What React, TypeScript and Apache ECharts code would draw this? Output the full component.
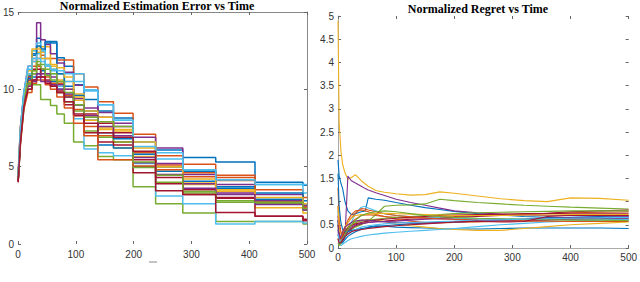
import React, { useEffect, useRef } from "react";
import * as echarts from "echarts";

// MATLAB default colour order
const palette = ["#0072BD", "#D95319", "#EDB120", "#7E2F8E", "#77AC30", "#4DBEEE", "#A2142F"];

// ---------- Left plot: Normalized Estimation Error vs Time ----------
const xTicks = [0, 100, 200, 300, 400, 500];
const errYTicks = [0, 5, 10, 15];
const riseTimes = [0, 4, 10];
const stepStarts = [17, 24, 32, 39, 47, 56, 67, 80, 96, 114, 138, 165, 199, 238, 285, 342, 410, 493, 500];

const rise01 = [4.2, 7.0, 9.3];
const rise02 = [4.3, 7.3, 9.6];
const rise03 = [4.1, 6.8, 9.0];
const rise04 = [4.4, 7.5, 9.8];
const rise05 = [4.0, 6.5, 8.8];
const rise06 = [4.3, 7.2, 9.5];
const rise07 = [4.2, 6.9, 9.2];
const rise08 = [4.1, 6.6, 8.9];
const rise09 = [4.5, 7.6, 9.7];
const rise10 = [4.2, 7.1, 9.4];
const rise11 = [4.0, 6.7, 9.1];
const rise12 = [4.3, 7.0, 9.0];
const rise13 = [4.4, 7.4, 9.9];
const rise14 = [4.1, 6.9, 9.3];
const rise15 = [4.2, 7.2, 9.6];
const rise16 = [4.0, 6.4, 8.7];
const rise17 = [4.3, 7.3, 9.5];
const rise18 = [4.1, 6.8, 9.2];
const rise19 = [4.2, 7.0, 9.4];
const rise20 = [4.4, 7.5, 9.8];
const rise21 = [4.0, 6.6, 8.9];

const err01 = [10.9, 12.2, 13.3, 12.5, 13.0, 13.1, 12.05, 11.5, 10.3, 9.35, 8.6, 8.15, 6.6, 6.08, 5.6, 5.3, 4.0, 3.8];
const err02 = [10.5, 11.5, 12.0, 12.2, 12.0, 12.0, 11.9, 11.9, 11.0, 10.15, 9.2, 8.45, 7.1, 5.7, 5.15, 4.3, 2.65, 2.2];
const err03 = [11.0, 12.5, 12.75, 12.75, 12.75, 11.3, 10.6, 10.0, 9.3, 8.3, 7.4, 6.2, 5.65, 5.0, 3.85, 3.5, 2.35, 2.0];
const err04 = [11.5, 12.0, 14.3, 13.2, 12.9, 12.3, 11.7, 11.1, 10.26, 9.97, 8.5, 7.6, 6.9, 6.2, 4.5, 3.85, 3.2, 2.5];
const err05 = [10.3, 10.3, 10.3, 9.35, 9.35, 8.96, 8.4, 7.8, 6.6, 6.35, 5.65, 5.45, 3.7, 2.6, 2.0, 1.45, 1.45, 1.3];
const err06 = [11.5, 12.5, 13.0, 12.0, 11.5, 11.0, 10.2, 9.5, 8.1, 6.15, 5.9, 5.7, 5.2, 3.1, 2.6, 1.3, 1.45, 1.35];
const err07 = [10.8, 11.0, 11.5, 11.3, 10.6, 10.2, 9.9, 9.5, 9.0, 8.4, 7.8, 7.2, 4.6, 3.9, 3.2, 2.95, 1.8, 1.6];
const err08 = [10.0, 10.8, 11.0, 11.2, 11.0, 10.5, 10.0, 9.6, 9.0, 8.0, 6.4, 6.2, 5.0, 4.7, 4.05, 3.6, 2.9, 2.6];
const err09 = [10.2, 11.8, 11.5, 11.0, 10.8, 10.4, 10.4, 9.6, 8.7, 7.6, 7.0, 6.6, 5.9, 5.1, 4.35, 4.1, 3.5, 3.0];
const err10 = [10.5, 11.2, 12.4, 12.4, 11.5, 11.5, 11.0, 10.5, 9.7, 8.0, 7.5, 7.3, 6.2, 4.45, 3.95, 3.4, 2.7, 2.3];
const err11 = [10.4, 10.6, 10.8, 11.0, 11.0, 10.8, 10.3, 10.0, 9.4, 8.8, 8.2, 7.8, 5.25, 5.2, 3.9, 3.3, 2.8, 2.4];
const err12 = [10.0, 11.0, 11.6, 11.3, 10.9, 10.6, 9.8, 9.2, 8.6, 7.3, 6.9, 6.6, 4.95, 4.0, 3.3, 2.8, 2.6, 2.2];
const err13 = [11.0, 11.8, 12.3, 12.5, 11.6, 11.2, 11.0, 10.5, 11.0, 9.9, 9.0, 8.0, 6.6, 5.9, 4.8, 4.15, 3.85, 3.3];
const err14 = [10.6, 11.3, 11.3, 10.8, 10.5, 10.2, 9.8, 9.0, 8.3, 7.2, 6.6, 6.4, 5.45, 4.3, 3.5, 3.0, 2.7, 2.3];
const err15 = [10.7, 12.3, 12.8, 12.6, 13.1, 13.0, 11.0, 10.2, 9.6, 8.6, 7.2, 6.8, 5.8, 5.0, 4.7, 3.7, 3.3, 2.8];
const err16 = [9.8, 10.4, 10.6, 10.6, 10.3, 10.0, 9.5, 8.8, 7.8, 7.0, 5.45, 5.45, 5.05, 4.8, 4.6, 4.45, 2.7, 2.4];
const err17 = [11.2, 12.6, 12.6, 12.0, 12.0, 11.6, 11.4, 10.8, 9.5, 8.6, 8.2, 7.4, 6.6, 5.0, 4.2, 3.5, 3.0, 2.6];
const err18 = [10.2, 10.5, 11.0, 10.5, 10.5, 10.3, 10.0, 9.7, 9.0, 8.3, 7.6, 7.0, 5.6, 4.5, 3.6, 3.2, 2.55, 2.2];
const err19 = [10.4, 11.2, 11.8, 11.6, 11.3, 11.0, 10.5, 9.8, 9.0, 8.2, 7.9, 7.6, 5.3, 4.45, 3.4, 2.7, 2.7, 2.3];
const err20 = [11.3, 12.0, 12.0, 11.8, 11.5, 11.3, 11.2, 11.0, 10.5, 9.97, 9.0, 8.0, 6.3, 5.5, 4.8, 4.15, 3.85, 3.85];
const err21 = [10.0, 10.6, 10.8, 10.8, 10.4, 10.2, 9.8, 9.2, 8.4, 7.8, 7.2, 6.9, 6.0, 3.45, 3.2, 2.03, 1.8, 1.5];

const riseList = [rise01, rise02, rise03, rise04, rise05, rise06, rise07, rise08, rise09, rise10, rise11, rise12, rise13, rise14, rise15, rise16, rise17, rise18, rise19, rise20, rise21];
const errList = [err01, err02, err03, err04, err05, err06, err07, err08, err09, err10, err11, err12, err13, err14, err15, err16, err17, err18, err19, err20, err21];

// ---------- Right plot: Normalized Regret vs Time ----------
const regretYTicks = [0, 0.5, 1, 1.5, 2, 2.5, 3, 3.5, 4, 4.5, 5];
const regretTimes = [0, 2, 5, 8, 12, 17, 23, 30, 40, 47, 52, 65, 80, 100, 125, 150, 175, 200, 240, 280, 320, 360, 400, 450, 500];

const reg01 = [1.9, 1.55, 1.4, 1.28, 1.0, 0.8, 0.72, 0.74, 0.78, 0.8, 1.08, 1.05, 1.03, 0.98, 0.92, 0.87, 0.83, 0.79, 0.74, 0.71, 0.68, 0.66, 0.64, 0.63, 0.61];
const reg02 = [1.3, 0.6, 0.35, 0.3, 0.38, 0.45, 0.55, 0.62, 0.7, 0.71, 0.72, 0.7, 0.68, 0.66, 0.65, 0.66, 0.67, 0.68, 0.7, 0.72, 0.73, 0.74, 0.76, 0.77, 0.78];
const reg03 = [4.9, 2.7, 2.1, 1.8, 1.62, 1.48, 1.52, 1.58, 1.45, 1.38, 1.33, 1.24, 1.2, 1.17, 1.14, 1.15, 1.21, 1.18, 1.12, 1.06, 1.02, 1.0, 1.08, 1.07, 1.03];
const reg04 = [0.6, 0.25, 0.18, 0.17, 0.25, 1.55, 1.45, 1.4, 1.33, 1.28, 1.25, 1.19, 1.13, 1.05, 0.98, 0.92, 0.86, 0.8, 0.76, 0.73, 0.71, 0.7, 0.7, 0.69, 0.68];
const reg05 = [0.5, 0.3, 0.22, 0.25, 0.3, 0.35, 0.4, 0.45, 0.5, 0.55, 0.58, 0.72, 0.9, 0.92, 0.93, 0.95, 1.05, 1.02, 0.98, 0.95, 0.92, 0.9, 0.88, 0.86, 0.84];
const reg06 = [0.8, 0.3, 0.12, 0.1, 0.2, 0.35, 0.55, 0.75, 0.88, 0.9, 0.86, 0.8, 0.74, 0.7, 0.68, 0.66, 0.65, 0.64, 0.63, 0.63, 0.62, 0.62, 0.62, 0.62, 0.62];
const reg07 = [0.4, 0.15, 0.1, 0.15, 0.25, 0.35, 0.42, 0.48, 0.52, 0.54, 0.55, 0.57, 0.58, 0.6, 0.62, 0.63, 0.64, 0.66, 0.68, 0.7, 0.72, 0.75, 0.78, 0.8, 0.82];
const reg08 = [0.6, 0.2, 0.1, 0.12, 0.18, 0.25, 0.3, 0.35, 0.4, 0.43, 0.45, 0.48, 0.47, 0.45, 0.44, 0.43, 0.42, 0.41, 0.41, 0.42, 0.43, 0.43, 0.43, 0.43, 0.42];
const reg09 = [0.9, 0.5, 0.3, 0.35, 0.45, 0.6, 0.72, 0.8, 0.82, 0.8, 0.78, 0.72, 0.68, 0.62, 0.58, 0.55, 0.54, 0.55, 0.56, 0.58, 0.6, 0.61, 0.63, 0.64, 0.65];
const reg10 = [0.5, 0.2, 0.15, 0.2, 0.3, 0.4, 0.5, 0.55, 0.6, 0.61, 0.62, 0.6, 0.57, 0.52, 0.48, 0.45, 0.42, 0.4, 0.38, 0.38, 0.42, 0.46, 0.5, 0.53, 0.56];
const reg11 = [0.3, 0.15, 0.12, 0.2, 0.3, 0.38, 0.45, 0.5, 0.53, 0.54, 0.55, 0.56, 0.57, 0.58, 0.6, 0.62, 0.63, 0.62, 0.6, 0.59, 0.58, 0.6, 0.62, 0.63, 0.64];
const reg12 = [0.2, 0.1, 0.15, 0.25, 0.35, 0.45, 0.5, 0.55, 0.58, 0.59, 0.6, 0.62, 0.64, 0.66, 0.68, 0.7, 0.72, 0.74, 0.76, 0.77, 0.78, 0.79, 0.8, 0.8, 0.8];
const reg13 = [0.4, 0.1, 0.05, 0.08, 0.12, 0.16, 0.2, 0.22, 0.25, 0.27, 0.28, 0.3, 0.32, 0.34, 0.36, 0.38, 0.4, 0.42, 0.46, 0.5, 0.53, 0.56, 0.58, 0.6, 0.61];
const reg14 = [0.7, 0.3, 0.2, 0.25, 0.35, 0.42, 0.48, 0.52, 0.55, 0.57, 0.58, 0.6, 0.62, 0.64, 0.66, 0.68, 0.7, 0.71, 0.72, 0.73, 0.74, 0.74, 0.75, 0.75, 0.75];
const reg15 = [1.6, 0.9, 0.55, 0.4, 0.35, 0.35, 0.38, 0.4, 0.42, 0.43, 0.44, 0.46, 0.48, 0.5, 0.52, 0.53, 0.55, 0.56, 0.58, 0.6, 0.62, 0.64, 0.66, 0.68, 0.7];
const reg16 = [0.2, 0.15, 0.2, 0.3, 0.42, 0.55, 0.65, 0.75, 0.85, 0.84, 0.82, 0.78, 0.74, 0.7, 0.67, 0.65, 0.63, 0.62, 0.6, 0.59, 0.58, 0.58, 0.57, 0.57, 0.57];
const reg17 = [0.9, 0.4, 0.3, 0.35, 0.45, 0.55, 0.65, 0.7, 0.72, 0.72, 0.73, 0.74, 0.75, 0.74, 0.73, 0.72, 0.71, 0.7, 0.7, 0.7, 0.71, 0.71, 0.72, 0.72, 0.72];
const reg18 = [0.5, 0.2, 0.25, 0.35, 0.45, 0.5, 0.55, 0.58, 0.6, 0.6, 0.6, 0.58, 0.56, 0.55, 0.54, 0.54, 0.55, 0.56, 0.58, 0.6, 0.62, 0.64, 0.65, 0.66, 0.66];
const reg19 = [0.1, 0.05, 0.1, 0.2, 0.3, 0.4, 0.5, 0.6, 0.7, 0.73, 0.75, 0.78, 0.8, 0.78, 0.74, 0.7, 0.68, 0.66, 0.64, 0.63, 0.62, 0.61, 0.6, 0.6, 0.59];
const reg20 = [0.3, 0.15, 0.15, 0.2, 0.25, 0.3, 0.35, 0.4, 0.45, 0.47, 0.48, 0.5, 0.52, 0.54, 0.55, 0.56, 0.57, 0.58, 0.6, 0.61, 0.62, 0.63, 0.64, 0.65, 0.66];
const reg21 = [0.2, 0.1, 0.12, 0.18, 0.25, 0.3, 0.35, 0.38, 0.4, 0.41, 0.42, 0.44, 0.46, 0.48, 0.5, 0.52, 0.54, 0.56, 0.58, 0.56, 0.57, 0.68, 0.7, 0.7, 0.7];

const regList = [reg01, reg02, reg03, reg04, reg05, reg06, reg07, reg08, reg09, reg10, reg11, reg12, reg13, reg14, reg15, reg16, reg17, reg18, reg19, reg20, reg21];

const TITLE_LEFT = "Normalized Estimation Error vs Time";
const TITLE_RIGHT = "Normalized Regret vs Time";

function buildStep(rise: number[], steps: number[]): number[][] {
  const pts: number[][] = [];
  rise.forEach((v, i) => pts.push([riseTimes[i], v]));
  steps.forEach((v, k) => {
    pts.push([stepStarts[k], v]);
    pts.push([stepStarts[k + 1], v]);
  });
  return pts;
}

const labelStyle = { fontFamily: "Liberation Sans", fontSize: 10, color: "#333" };
const tickStyle = { show: true, inside: true, length: 3, lineStyle: { color: "#666", width: 1 } };
const hiddenLine = { show: false, onZero: false };
const greyLine = (c: string) => ({ show: true, onZero: false, lineStyle: { color: c, width: 1 } });

export default function App() {
  const ref = useRef<HTMLDivElement>(null);
  useEffect(() => {
    if (!ref.current) return;
    const chart = echarts.init(ref.current, undefined, { renderer: "svg" });
    const leftSeries = errList.map((steps, i) => ({
      type: "line",
      xAxisIndex: 0,
      yAxisIndex: 0,
      data: buildStep(riseList[i], steps),
      showSymbol: false,
      symbol: "none",
      lineStyle: { color: palette[i % 7], width: 1.5 },
      silent: true,
    }));
    const rightSeries = regList.map((vals, i) => ({
      type: "line",
      xAxisIndex: 2,
      yAxisIndex: 2,
      data: vals.map((v, k) => [regretTimes[k], v]),
      showSymbol: false,
      symbol: "none",
      lineStyle: { color: palette[i % 7], width: 1.1 },
      silent: true,
    }));
    const xBase = {
      type: "value",
      min: xTicks[0],
      max: xTicks[xTicks.length - 1],
      interval: 100,
      splitLine: { show: false },
    };
    const errBase = { type: "value", min: errYTicks[0], max: errYTicks[errYTicks.length - 1], interval: 5, splitLine: { show: false } };
    const regBase = { type: "value", min: regretYTicks[0], max: regretYTicks[regretYTicks.length - 1], interval: 0.5, splitLine: { show: false } };
    chart.setOption({
      animation: false,
      backgroundColor: "#fff",
      grid: [
        { left: 13, right: 333, top: 12, bottom: 38 },
        { left: 338, right: 8, top: 16, bottom: 34 },
      ],
      xAxis: [
        { ...xBase, gridIndex: 0, position: "bottom", axisLine: hiddenLine, axisTick: tickStyle, axisLabel: { ...labelStyle, margin: 5 } },
        { ...xBase, gridIndex: 0, position: "top", axisLine: greyLine("#888"), axisTick: tickStyle, axisLabel: { show: false } },
        { ...xBase, gridIndex: 1, position: "bottom", axisLine: greyLine("#aaa"), axisTick: tickStyle, axisLabel: { ...labelStyle, margin: 4 } },
        { ...xBase, gridIndex: 1, position: "top", axisLine: hiddenLine, axisTick: tickStyle, axisLabel: { show: false } },
      ],
      yAxis: [
        { ...errBase, gridIndex: 0, position: "left", axisLine: hiddenLine, axisTick: tickStyle, axisLabel: { ...labelStyle, margin: 4 } },
        { ...errBase, gridIndex: 0, position: "right", axisLine: greyLine("#888"), axisTick: tickStyle, axisLabel: { show: false } },
        { ...regBase, gridIndex: 1, position: "left", axisLine: greyLine("#aaa"), axisTick: tickStyle, axisLabel: { ...labelStyle, margin: 4 } },
        { ...regBase, gridIndex: 1, position: "right", axisLine: hiddenLine, axisTick: tickStyle, axisLabel: { show: false } },
      ],
      graphic: [
        {
          type: "text",
          x: 157,
          y: 0,
          style: { text: TITLE_LEFT, font: "bold 12px 'Liberation Serif'", fill: "#000", align: "center", verticalAlign: "top" },
        },
        {
          type: "text",
          x: 478,
          y: 8.5,
          style: { text: TITLE_RIGHT, font: "bold 12px 'Liberation Serif'", fill: "#000", align: "center", verticalAlign: "middle" },
        },
        { type: "line", shape: { x1: 149, y1: 262, x2: 157, y2: 262 }, style: { stroke: "#888", lineWidth: 1 } },
      ],
      series: [...leftSeries, ...rightSeries],
    });
    return () => chart.dispose();
  }, []);
  return (
    <div
      ref={ref}
      style={{ position: "fixed", left: 0, top: 0, width: 640, height: 282, background: "#fff" }}
    />
  );
}
